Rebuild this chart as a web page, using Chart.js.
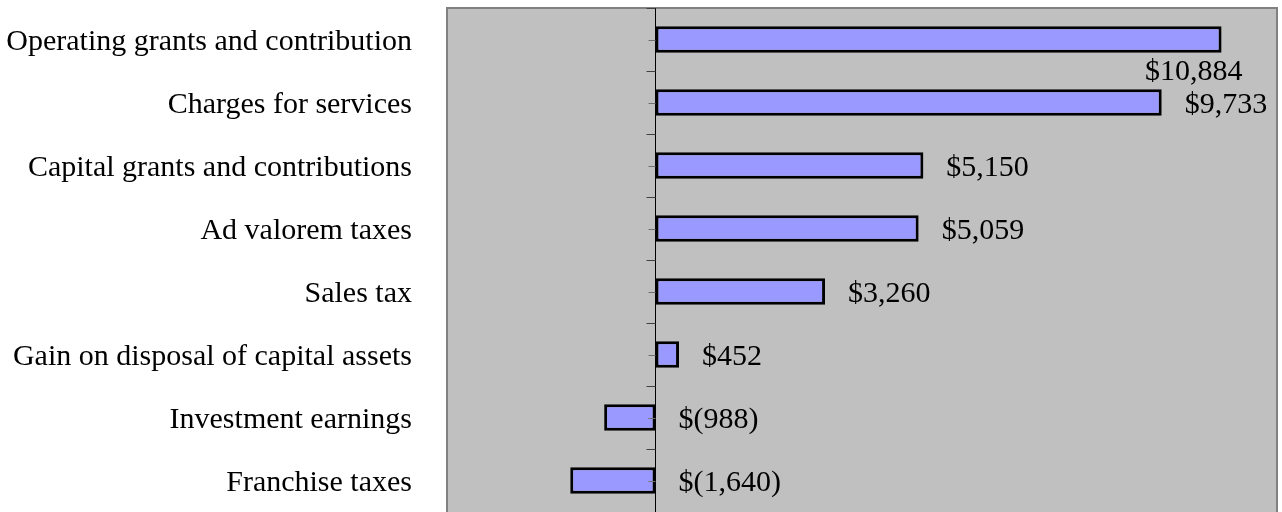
<!DOCTYPE html>
<html>
<head>
<meta charset="utf-8">
<script src="https://cdn.jsdelivr.net/npm/chart.js@4"></script>
<style>
  html, body { margin: 0; padding: 0; background: #ffffff; overflow: hidden; }
</style>
</head>
<body>
<canvas id="chartRevenue" width="1282" height="512"></canvas>
<script>
const categorias = [
    'Operating grants and contribution',
    'Charges for services',
    'Capital grants and contributions',
    'Ad valorem taxes',
    'Sales tax',
    'Gain on disposal of capital assets',
    'Investment earnings',
    'Franchise taxes'
];

const valores = [10884, 9733, 5150, 5059, 3260, 452, -988, -1640];

const eixoMin = -4010;
const eixoMax = 11950;

const fonte = '"Liberation Serif", "Times New Roman", serif';

function formata(v) {
    const s = Math.abs(v).toLocaleString('en-US');
    return v < 0 ? '$(' + s + ')' : '$' + s;
}

// fundo cinza, borda, linha do zero e marquinhas
const fundoPlot = {
    id: 'fundoPlot',
    beforeDatasetsDraw(chart) {
        const { ctx, chartArea: a } = chart;
        ctx.save();
        ctx.fillStyle = '#c0c0c0';
        ctx.fillRect(a.left, a.top, a.right - a.left, a.bottom - a.top + 4);
        ctx.strokeStyle = '#808080';
        ctx.lineWidth = 2;
        ctx.strokeRect(a.left, a.top, a.right - a.left, a.bottom - a.top + 4);
        ctx.restore();
    },
    afterDatasetsDraw(chart) {
        const { ctx, chartArea: a, scales } = chart;
        const x0 = Math.floor(scales.x.getPixelForValue(0)) + 0.5;
        const n = categorias.length;
        const passo = (a.bottom - a.top) / n;
        ctx.save();
        ctx.strokeStyle = '#000000';
        ctx.lineWidth = 1;
        ctx.beginPath();
        ctx.moveTo(x0, a.top);
        ctx.lineTo(x0, a.bottom + 4);
        ctx.stroke();
        // marcas entre categorias
        ctx.strokeStyle = '#404040';
        for (let i = 0; i <= n; i++) {
            const y = Math.round(a.top + i * passo) + 0.5;
            ctx.beginPath();
            ctx.moveTo(x0 - 9, y);
            ctx.lineTo(x0, y);
            ctx.stroke();
        }
        // marcas no centro das barras
        ctx.strokeStyle = '#707070';
        for (let i = 0; i < n; i++) {
            const y = Math.round(scales.y.getPixelForValue(i)) + 0.5;
            ctx.beginPath();
            ctx.moveTo(x0 - 7, y);
            ctx.lineTo(x0, y);
            ctx.stroke();
        }
        // rótulos de valor
        ctx.fillStyle = '#000000';
        ctx.font = '30px ' + fonte;
        ctx.textBaseline = 'middle';
        const meta = chart.getDatasetMeta(0);
        meta.data.forEach((bar, i) => {
            const txt = formata(valores[i]);
            const fim = Math.max(bar.x, x0);
            const w = ctx.measureText(txt).width;
            if (fim + 23 + w > a.right - 4) {
                ctx.textAlign = 'right';
                ctx.fillText(txt, bar.x + 21, bar.y + passo / 2 + 1);
            } else {
                ctx.textAlign = 'left';
                ctx.fillText(txt, fim + 23, bar.y + 3);
            }
        });
        ctx.restore();
    }
};

new Chart(document.getElementById('chartRevenue').getContext('2d'), {
    type: 'bar',
    data: {
        labels: categorias,
        datasets: [{
            data: valores,
            backgroundColor: '#9999ff',
            borderColor: '#000000',
            borderWidth: 3,
            borderSkipped: false,
            categoryPercentage: 1,
            barPercentage: 0.42
        }]
    },
    options: {
        indexAxis: 'y',
        responsive: false,
        animation: false,
        layout: { padding: { top: 8, right: 5, bottom: 0, left: 0 } },
        plugins: {
            legend: { display: false },
            tooltip: { enabled: false }
        },
        scales: {
            x: {
                display: false,
                min: eixoMin,
                max: eixoMax
            },
            y: {
                afterFit(s) {
                    s.width = 447;
                    s.paddingTop = 0;
                    s.paddingBottom = 0;
                },
                grid: { display: false },
                border: { display: false },
                ticks: {
                    padding: 27,
                    labelOffset: 3,
                    color: '#000000',
                    font: { family: fonte, size: 30 }
                }
            }
        }
    },
    plugins: [fundoPlot]
});
</script>
</body>
</html>
